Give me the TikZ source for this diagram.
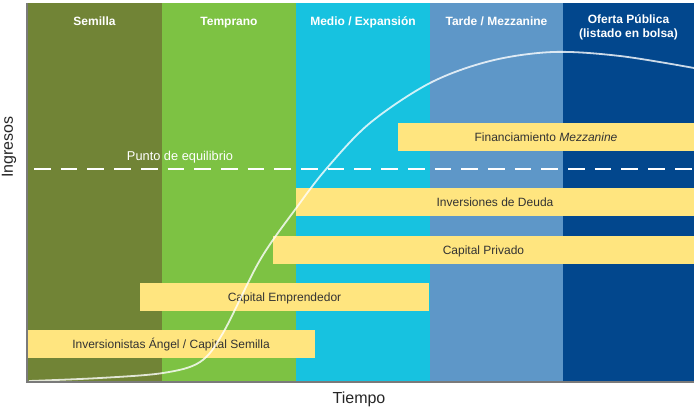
\documentclass[tikz,border=0pt]{standalone}
\usepackage{fontspec}
\setmainfont{Liberation Sans}
\usetikzlibrary{positioning, calc}

\definecolor{semilla}{HTML}{718436}
\definecolor{temprano}{HTML}{7DC243}
\definecolor{medio}{HTML}{17C2E0}
\definecolor{tarde}{HTML}{5E97C8}
\definecolor{oferta}{HTML}{02478D}
\definecolor{barra}{HTML}{FFE57F}
\definecolor{textobarra}{HTML}{333333}
\definecolor{eje}{HTML}{7A7A7A}

\tikzset{
  titulo/.style={text=white, font=\bfseries\fontsize{12}{14}\selectfont, align=center, inner sep=0pt},
  barra/.style={fill=barra, text=textobarra, font=\fontsize{12}{14}\selectfont,
    minimum height=28pt, text height=9.5pt, text depth=0.5pt, inner sep=0pt},
}

\begin{document}
\begin{tikzpicture}[x=1pt,y=-1pt]
                \useasboundingbox (0,0) rectangle (694,407);

                % 段階の背景
                \fill[semilla] (27,3) rectangle (162,382);
                \fill[temprano] (162,3) rectangle (296,382);
                \fill[medio] (296,3) rectangle (430,382);
                \fill[tarde] (430,3) rectangle (563,382);
                \fill[oferta] (563,3) rectangle (694,382);

                % 段階の名前
                \node[titulo, anchor=base] (semilla) at (94.5,25) {Semilla};
                \node[titulo, anchor=base] (temprano) at (229,25) {Temprano};
                \node[titulo, anchor=base] (medio) at (363,25) {Medio / Expansión};
                \node[titulo, anchor=base] (tarde) at (496.5,25) {Tarde / Mezzanine};
                \node[titulo] (oferta) at (628.5,27.5) {Oferta Pública\\(listado en bolsa)};

                % 損益分岐点
                \coordinate (eqini) at (34,169);
                \coordinate (eqfin) at (694,169);
                \draw[white, line width=1.3pt, dash pattern=on 16.7pt off 10pt] (eqini) -- (eqfin);
                \node[text=white, font=\fontsize{12.8}{15}\selectfont, anchor=base, inner sep=0pt] (equilibrio) at (180,160) {Punto de equilibrio};

                % 資金調達の帯
                \node[barra, minimum width=296pt] (mezzanine) at (546,137) {Financiamiento \textit{Mezzanine}};
                \node[barra, minimum width=398pt] (deuda) at (495,202) {Inversiones de Deuda};
                \node[barra, minimum width=421pt] (privado) at (483.5,249.5) {Capital Privado};
                \node[barra, minimum width=289pt] (emprendedor) at (284.5,297) {Capital Emprendedor};
                \node[barra, minimum width=288pt] (angel) at (171,344) {Inversionistas Ángel / Capital Semilla};

                % 収益曲線
                \draw[white, opacity=0.8, line width=1.8pt] plot[smooth, tension=0.55] coordinates {
                  (29,381) (100,378) (163,373) (200,362) (223,333) (260,260) (297,207)
                  (327,168) (370,123) (430,83) (490,61) (553,52) (620,56) (694,68)};

                % 軸
                \draw[eje, line width=2pt] (27,3) -- (27,382) -- (694,382);
                \node[text=black!85, font=\fontsize{16}{18}\selectfont, anchor=base, inner sep=0pt] (tiempo) at (359,403) {Tiempo};
                \node[text=black!85, font=\fontsize{16}{18}\selectfont, rotate=90, inner sep=0pt] (ingresos) at (9,147) {Ingresos};
\end{tikzpicture}
\end{document}
